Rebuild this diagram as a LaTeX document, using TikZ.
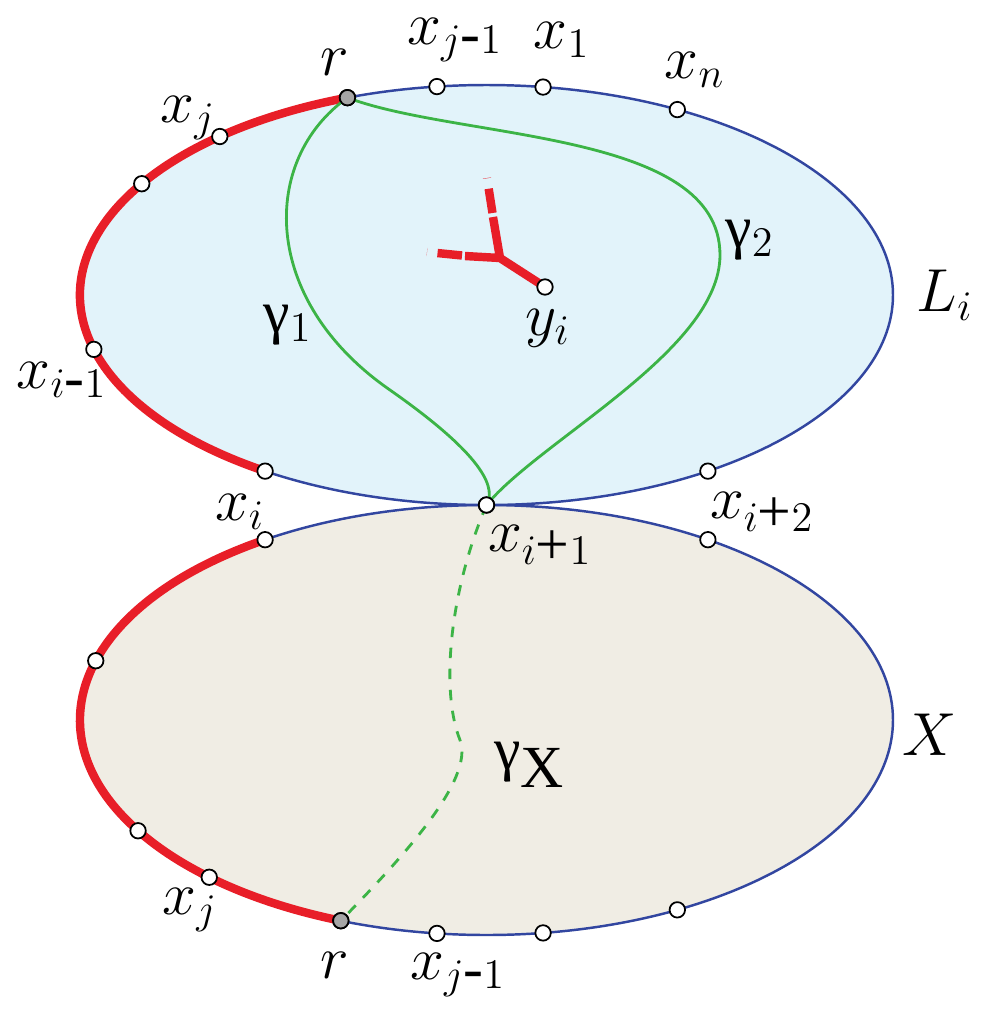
\documentclass[tikz,border=0pt]{standalone}
\usepackage{fontspec}
\setmainfont{Liberation Serif}
\usetikzlibrary{calc}
\definecolor{rimblue}{RGB}{50,70,160}
\definecolor{skyfill}{RGB}{226,243,250}
\definecolor{sandfill}{RGB}{240,237,228}
\definecolor{cutred}{RGB}{232,30,40}
\definecolor{pathgreen}{RGB}{60,180,70}
\tikzset{
  rim/.style={draw=rimblue,line width=0.7pt},
  cut/.style={cutred,line width=2.4pt},
  path/.style={pathgreen,line width=0.8pt},
  pt/.style={circle,draw=black,fill=white,line width=0.5pt,inner sep=0pt,minimum size=4.4pt},
  root/.style={pt,fill=gray!70},
  lab/.style={font=\fontsize{17}{20}\selectfont}
}
\newcommand{\rxa}{4.065}
\newcommand{\rya}{2.10}
\newcommand{\ryb}{2.15}
\begin{document}
\begin{tikzpicture}[line join=round]
\useasboundingbox (0,0) rectangle (10,-10.18);
\coordinate (ctop) at (4.865,-2.95);
\coordinate (cbot) at (4.865,-7.20);

\draw[rim,fill=sandfill] (cbot) ellipse [x radius=\rxa,y radius=\ryb];
\draw[rim,fill=skyfill] (ctop) ellipse [x radius=\rxa,y radius=\rya];

\draw[cut] ($(ctop)+(110:\rxa cm and \rya cm)$) arc[start angle=110,end angle=237,x radius=\rxa,y radius=\rya];
\draw[cut] ($(cbot)+(123:\rxa cm and \ryb cm)$) arc[start angle=123,end angle=249,x radius=\rxa,y radius=\ryb];

% tree at y_i
\coordinate (fork) at (5.00,-2.58);
\draw[cutred,line width=2.4pt] (5.45,-2.87) -- (fork) -- (4.65,-2.56) (fork) -- (4.93,-2.17);
\draw[cutred,line width=2.4pt,dash pattern=on 7pt off 3pt] (4.62,-2.555) -- (4.27,-2.52) (4.925,-2.13) -- (4.87,-1.78);

% points on the upper rim
\foreach \a/\n in {110/rt,131/xj,148/pa,195/xim,237/xi,270/xip,303/xipp,62/xn,82/xo,97/xjm}
  \node[pt] (\n) at ($(ctop)+(\a:\rxa cm and \rya cm)$) {};
% points on the lower rim
\foreach \a/\n in {123/bxi,164/bpa,211/bpb,227/bxj,249/brt,263/bxjm,278/bpc,298/bpd,57/bxipp}
  \node[pt] (\n) at ($(cbot)+(\a:\rxa cm and \ryb cm)$) {};
\node[pt] (yi) at (5.45,-2.87) {};

\draw[path] (rt.center) .. controls (2.6,-1.6) and (2.6,-3.0) .. (3.9,-3.9)
  .. controls (4.9,-4.6) and (4.95,-4.9) .. (xip.center);
\draw[path] (rt.center) .. controls (4.6,-1.4) and (7.2,-1.3) .. (7.2,-2.55)
  .. controls (7.2,-3.5) and (5.4,-4.4) .. (xip.center);
\draw[path,dashed] (xip.center) .. controls (4.5,-5.9) and (4.4,-6.9) .. (4.6,-7.4)
  .. controls (4.75,-7.8) and (4.0,-8.6) .. (brt.center);
\node[pt] at (xip) {};
\node[root] at (rt) {};
\node[root] at (brt) {};

\node[lab] at (3.35,-0.62) {$r$};
\node[lab] at (4.55,-0.40) {$x_{j\textrm{-}1}$};
\node[lab] at (5.62,-0.40) {$x_{1}$};
\node[lab] at (6.95,-0.70) {$x_{n}$};
\node[lab] at (1.88,-1.18) {$x_{j}$};
\node[lab] at (0.62,-3.80) {$x_{i\textrm{-}1}$};
\node[lab] at (2.40,-5.12) {$x_{i}$};
\node[lab] at (5.40,-5.45) {$x_{i\textrm{+}1}$};
\node[lab] at (7.62,-5.12) {$x_{i\textrm{+}2}$};
\node[lab] at (2.88,-3.25) {γ$_1$};
\node[lab] at (7.50,-2.40) {γ$_2$};
\node[lab] at (5.48,-3.28) {$y_i$};
\node[lab] at (9.45,-2.95) {$L_i$};
\node[lab] at (9.30,-7.35) {$X$};
\node[lab] at (5.30,-7.65) {γ$_{\textrm{X}}$};
\node[lab] at (1.90,-9.10) {$x_{j}$};
\node[lab] at (3.35,-9.65) {$r$};
\node[lab] at (4.58,-9.75) {$x_{j\textrm{-}1}$};
\end{tikzpicture}
\end{document}
